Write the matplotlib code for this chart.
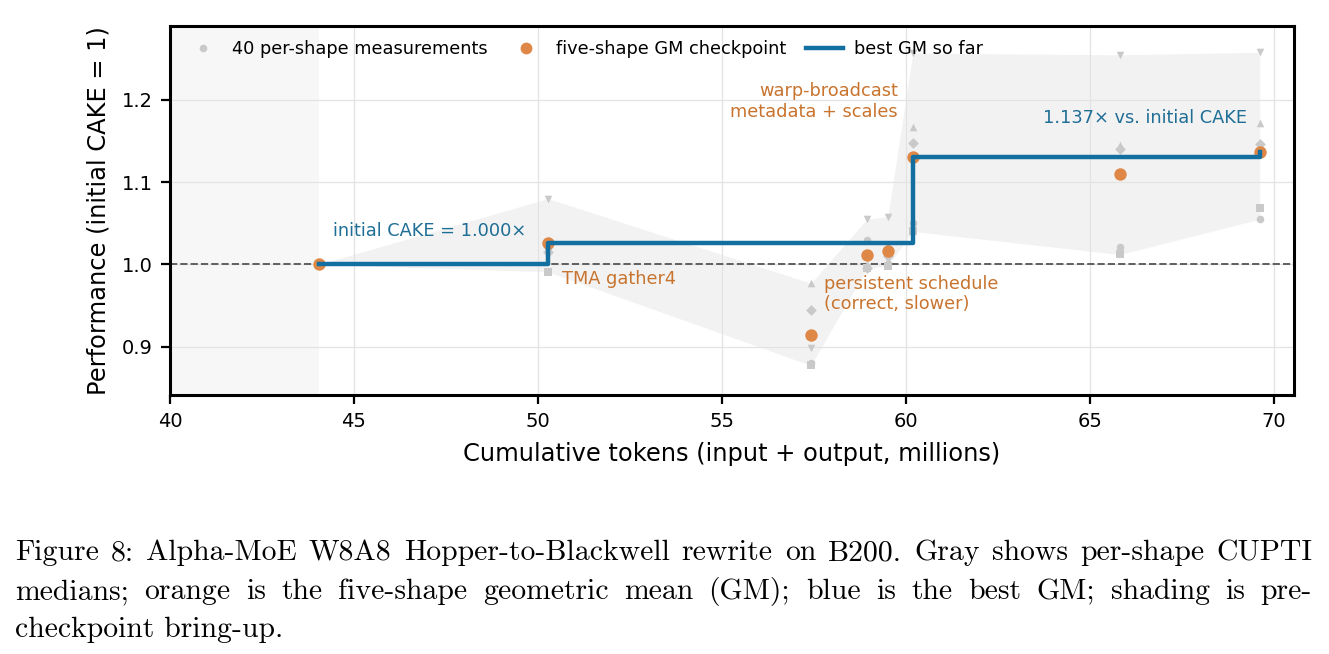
import numpy as np
import matplotlib
matplotlib.use("Agg")
import matplotlib.pyplot as plt
from matplotlib.lines import Line2D

# Checkpoints (cumulative tokens, millions)
tokens = [44.05, 50.27, 57.42, 58.94, 59.51, 60.19, 65.82, 69.62]

# Five-shape geometric mean at each checkpoint (relative to initial CAKE)
gm = [1.000, 1.026, 0.914, 1.011, 1.016, 1.130, 1.110, 1.137]

# Per-shape CUPTI medians (5 shapes x 8 checkpoints = 40 points)
shape_circle = [1.000, 1.020, 0.880, 1.030, 1.020, 1.050, 1.021, 1.055]
shape_square = [1.000, 0.991, 0.877, 0.996, 0.998, 1.040, 1.012, 1.069]
shape_tri_up = [1.000, 1.030, 0.977, 1.000, 1.005, 1.167, 1.145, 1.172]
shape_tri_down = [1.000, 1.080, 0.898, 1.055, 1.058, 1.257, 1.255, 1.258]
shape_diamond = [1.000, 1.015, 0.944, 0.995, 1.010, 1.148, 1.140, 1.147]

shapes = [(shape_circle, "o"), (shape_square, "s"), (shape_tri_up, "^"),
          (shape_tri_down, "v"), (shape_diamond, "D")]

caption_lines = [
    "Figure 8: Alpha-MoE W8A8 Hopper-to-Blackwell rewrite on B200. Gray shows per-shape CUPTI",
    "medians; orange is the five-shape geometric mean (GM); blue is the best GM; shading is pre-",
    "checkpoint bring-up.",
]

BLUE = "#126fa0"
BLUE_TXT = "#1f6e96"
ORANGE = "#de8746"
ORANGE_TXT = "#c8742f"
GRAY = "#c9c9c9"

W, H = 1329, 654
fig = plt.figure(figsize=(W / 100, H / 100), dpi=100)
ax = fig.add_axes([170 / W, 1 - 395 / H, 1124 / W, 369 / H])

all_shapes = np.array([s for s, _ in shapes])
lo = all_shapes.min(axis=0)
hi = all_shapes.max(axis=0)

# pre-checkpoint bring-up shading + per-shape spread band
ax.axvspan(40, tokens[0], color="#f7f7f7", zorder=0, lw=0)
ax.fill_between(tokens, lo, hi, color="#f2f2f2", zorder=0.5, lw=0)

ax.axhline(1.0, color="#5f5f5f", ls="--", lw=1.4, zorder=1)

for vals, m in shapes:
    ax.scatter(tokens, vals, marker=m, s=30, color=GRAY, lw=0, zorder=2)

best = np.maximum.accumulate(gm)
ax.step(tokens, best, where="post", color=BLUE, lw=3.2, zorder=4)
ax.scatter(tokens, gm, s=80, color=ORANGE, lw=0, zorder=3)

# annotations
ax.text(44.43, 1.041, "initial CAKE = 1.000\u00d7", color=BLUE_TXT, fontsize=12.8,
        ha="left", va="center")
ax.text(50.66, 0.982, "TMA gather4", color=ORANGE_TXT, fontsize=12.8,
        ha="left", va="center")
ax.text(59.79, 1.198, "warp-broadcast\nmetadata + scales", color=ORANGE_TXT,
        fontsize=12.8, ha="right", va="center", multialignment="right")
ax.text(57.78, 0.964, "persistent schedule\n(correct, slower)", color=ORANGE_TXT,
        fontsize=12.8, ha="left", va="center")
ax.text(69.27, 1.178, "1.137\u00d7 vs. initial CAKE", color=BLUE_TXT, fontsize=12.8,
        ha="right", va="center")

ax.set_xlim(40, 70.55)
ax.set_ylim(0.841, 1.290)
ax.set_xticks([40, 45, 50, 55, 60, 65, 70])
ax.set_yticks([0.9, 1.0, 1.1, 1.2])
ax.grid(True, color="#e3e3e3", lw=0.9, zorder=0)
ax.set_axisbelow(True)
for sp in ax.spines.values():
    sp.set_linewidth(2.2)
ax.tick_params(labelsize=14, length=6.5, width=1.6, pad=6)
ax.set_xlabel("Cumulative tokens (input + output, millions)", fontsize=17.4, labelpad=8)
ax.set_ylabel("Performance (initial CAKE = 1)", fontsize=17.4, labelpad=8)

handles = [
    Line2D([], [], ls="", marker="o", ms=5.5, color=GRAY, mec="none"),
    Line2D([], [], ls="", marker="o", ms=8.5, color=ORANGE, mec="none"),
    Line2D([], [], color=BLUE, lw=3.2),
]
labels = ["40 per-shape measurements", "five-shape GM checkpoint", "best GM so far"]
ax.legend(handles, labels, loc="upper left", ncol=3, frameon=False, fontsize=12.8,
          columnspacing=1.12, handlelength=2.1, handletextpad=0.6,
          bbox_to_anchor=(0.0, 1.0), borderaxespad=0.4)

# caption, justified like the paper text
renderer = fig.canvas.get_renderer()
x0, x1 = 15, 1312
ys = [553, 592, 630]
for i, line in enumerate(caption_lines):
    y = 1 - ys[i] / H
    if i == len(caption_lines) - 1:
        fig.text(x0 / W, y, line, family="cmr10", fontsize=21.4, va="center", ha="left")
        continue
    words = line.split(" ")
    txts = [fig.text(0, y, w, family="cmr10", fontsize=21.4, va="center", ha="left")
            for w in words]
    widths = [t.get_window_extent(renderer).width for t in txts]
    gap = (x1 - x0 - sum(widths)) / (len(words) - 1)
    x = x0
    for t, w in zip(txts, widths):
        t.set_x(x / W)
        x += w + gap

fig.savefig("out.png", dpi=100)
